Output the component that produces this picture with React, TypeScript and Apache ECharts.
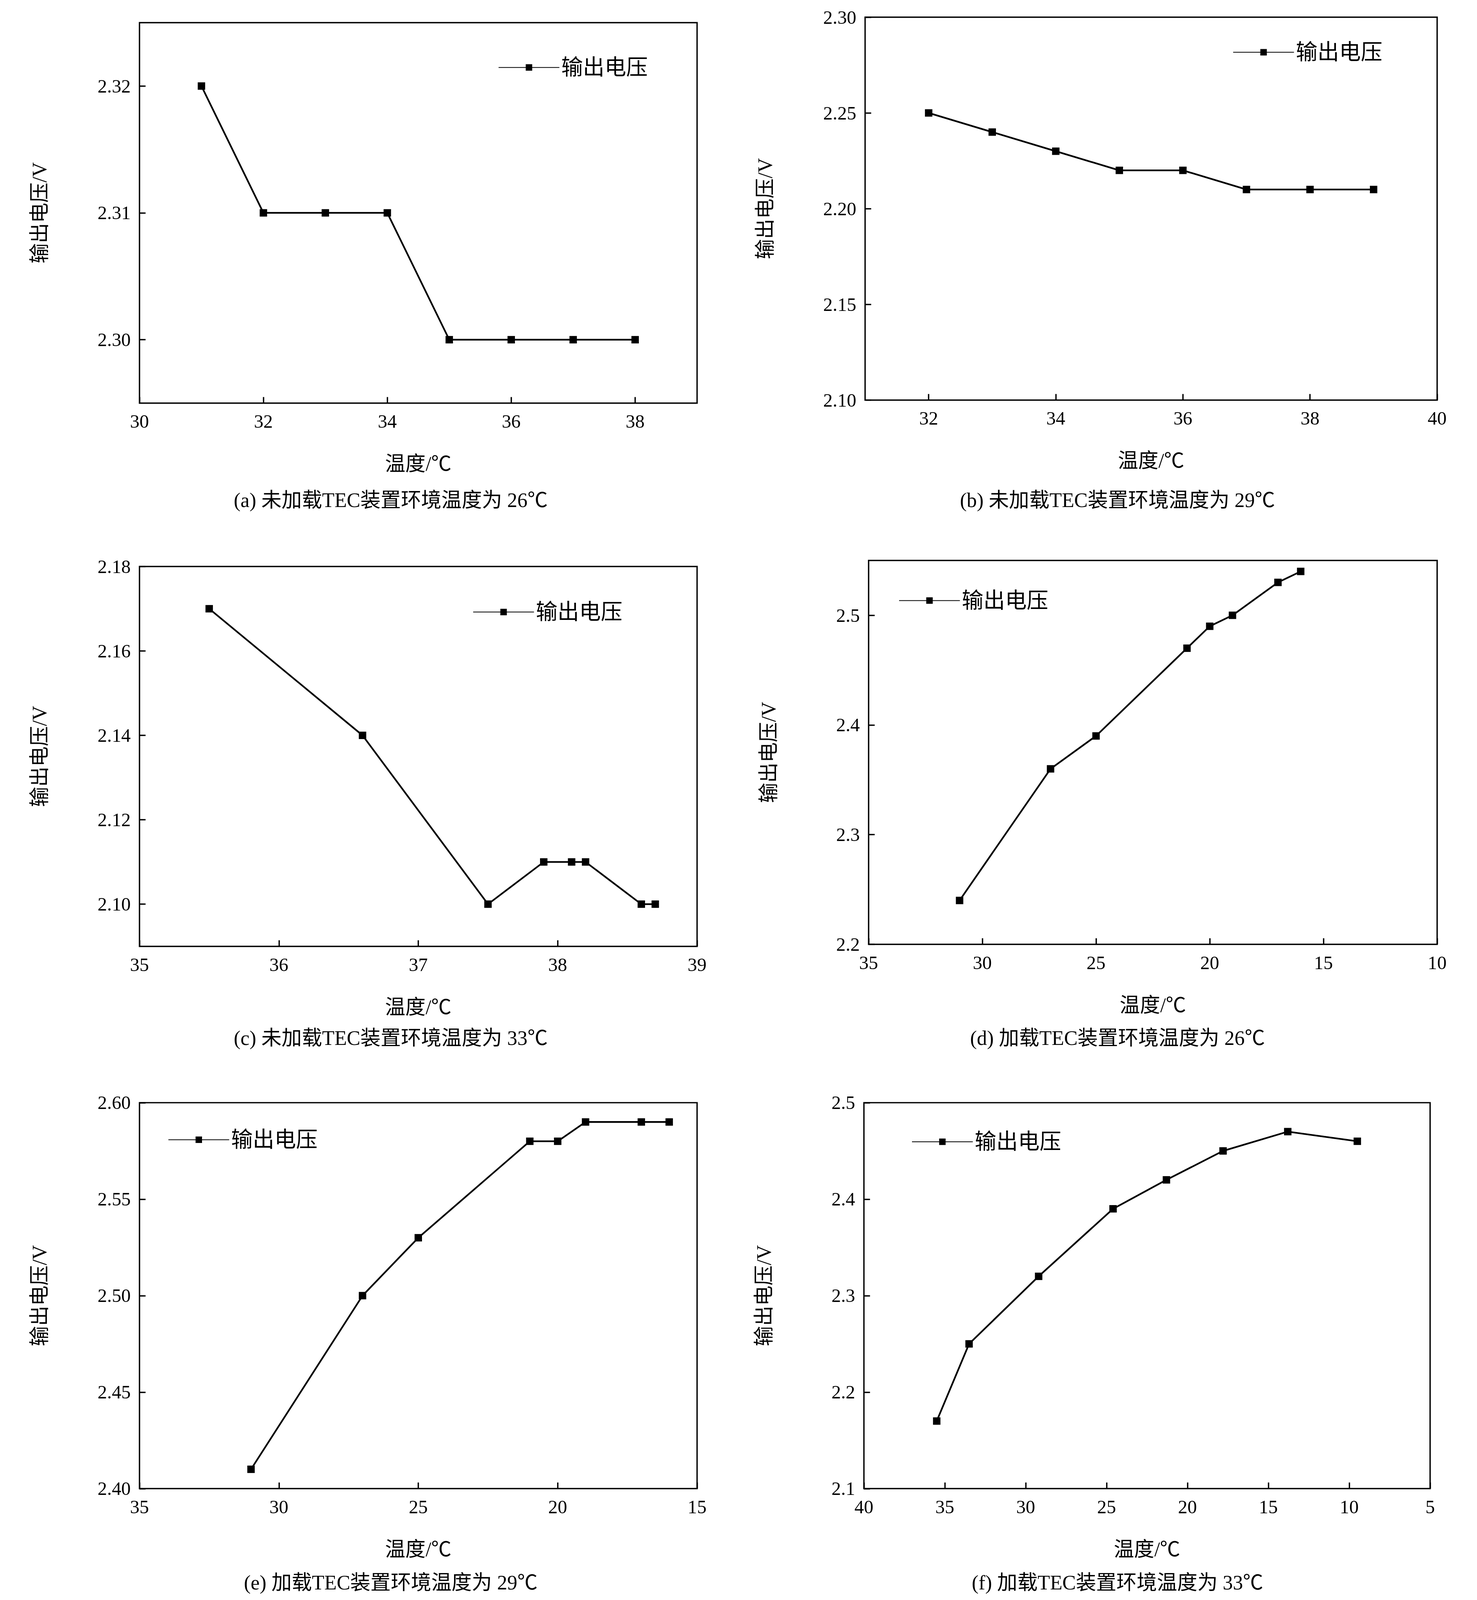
import React, { useEffect, useRef } from 'react'
import * as echarts from 'echarts'

const seriesName = '输出电压'

const xA = [31, 32, 33, 34, 35, 36, 37, 38]
const yA = [2.32, 2.31, 2.31, 2.31, 2.3, 2.3, 2.3, 2.3]
const xB = [32, 33, 34, 35, 36, 37, 38, 39]
const yB = [2.25, 2.24, 2.23, 2.22, 2.22, 2.21, 2.21, 2.21]
const xC = [35.5, 36.6, 37.5, 37.9, 38.1, 38.2, 38.6, 38.7]
const yC = [2.17, 2.14, 2.1, 2.11, 2.11, 2.11, 2.1, 2.1]
const xD = [31, 27, 25, 21, 20, 19, 17, 16]
const yD = [2.24, 2.36, 2.39, 2.47, 2.49, 2.5, 2.53, 2.54]
const xE = [31, 27, 25, 21, 20, 19, 17, 16]
const yE = [2.41, 2.5, 2.53, 2.58, 2.58, 2.59, 2.59, 2.59]
const xF = [35.5, 33.5, 29.2, 24.6, 21.3, 17.8, 13.8, 9.5]
const yF = [2.17, 2.25, 2.32, 2.39, 2.42, 2.45, 2.47, 2.46]

const xTicksA = [30, 32, 34, 36, 38]
const yTicksA = [2.3, 2.31, 2.32]
const xTicksB = [32, 34, 36, 38, 40]
const yTicksB = [2.1, 2.15, 2.2, 2.25, 2.3]
const xTicksC = [35, 36, 37, 38, 39]
const yTicksC = [2.1, 2.12, 2.14, 2.16, 2.18]
const xTicksD = [35, 30, 25, 20, 15, 10]
const yTicksD = [2.2, 2.3, 2.4, 2.5]
const xTicksE = [35, 30, 25, 20, 15]
const yTicksE = [2.4, 2.45, 2.5, 2.55, 2.6]
const xTicksF = [40, 35, 30, 25, 20, 15, 10, 5]
const yTicksF = [2.1, 2.2, 2.3, 2.4, 2.5]

const captions = [
  '(a) 未加载TEC装置环境温度为 26℃',
  '(b) 未加载TEC装置环境温度为 29℃',
  '(c) 未加载TEC装置环境温度为 33℃',
  '(d) 加载TEC装置环境温度为 26℃',
  '(e) 加载TEC装置环境温度为 29℃',
  '(f) 加载TEC装置环境温度为 33℃',
]

const FONT = '"Liberation Serif", "Noto Sans CJK SC", serif'

// layout in reference pixels (3780 x 4739), scaled to the real viewport
const panels = [
  { x: xA, y: yA, xt: xTicksA, yt: yTicksA, xMin: 30, xMax: 39, yMin: 2.295, yMax: 2.325, inv: false, dec: 2, grid: [357, 67, 1427, 1127], leg: [1270, 162] },
  { x: xB, y: yB, xt: xTicksB, yt: yTicksB, xMin: 31, xMax: 40, yMin: 2.1, yMax: 2.3, inv: false, dec: 2, grid: [2214, 51, 1464, 1134], leg: [3150, 117] },
  { x: xC, y: yC, xt: xTicksC, yt: yTicksC, xMin: 35, xMax: 39, yMin: 2.09, yMax: 2.18, inv: false, dec: 2, grid: [357, 1678, 1427, 1125], leg: [1205, 1775] },
  { x: xD, y: yD, xt: xTicksD, yt: yTicksD, xMin: 10, xMax: 35, yMin: 2.2, yMax: 2.55, inv: true, dec: 1, grid: [2223, 1660, 1455, 1137], leg: [2295, 1741] },
  { x: xE, y: yE, xt: xTicksE, yt: yTicksE, xMin: 15, xMax: 35, yMin: 2.4, yMax: 2.6, inv: true, dec: 2, grid: [357, 3266, 1427, 1143], leg: [425, 3338] },
  { x: xF, y: yF, xt: xTicksF, yt: yTicksF, xMin: 5, xMax: 40, yMin: 2.1, yMax: 2.5, inv: true, dec: 1, grid: [2211, 3266, 1449, 1143], leg: [2328, 3344] },
]

const App: React.FC = () => {
  const ref = useRef<HTMLDivElement>(null)

  useEffect(() => {
    if (!ref.current) return
    const chart = echarts.init(ref.current, undefined, { renderer: 'svg' })
    const W = ref.current.clientWidth || 3780
    const H = ref.current.clientHeight || 4739
    const sx = W / 3780
    const sy = H / 4739
    const s = Math.min(sx, sy)
    const text = { fontFamily: FONT, color: '#000' }

    const option: echarts.EChartsOption = {
      animation: false,
      backgroundColor: '#fff',
      grid: panels.map(p => ({
        left: p.grid[0] * sx, top: p.grid[1] * sy, width: p.grid[2] * sx, height: p.grid[3] * sy,
        show: true, borderColor: '#000', borderWidth: 4 * s, backgroundColor: 'transparent',
      })),
      legend: panels.map(p => ({
        data: [seriesName], left: p.leg[0] * sx, top: p.leg[1] * sy,
        itemWidth: 180 * s, itemHeight: 24 * s, itemGap: 10 * s,
        textStyle: { ...text, fontSize: 64 * s },
      })),
      xAxis: panels.map((p, i) => ({
        type: 'value', gridIndex: i, min: p.xMin, max: p.xMax, inverse: p.inv,
        name: '温度/℃', nameLocation: 'middle', nameGap: 150 * sy,
        nameTextStyle: { ...text, fontSize: 60 * s },
        splitLine: { show: false },
        axisLine: { show: false },
        axisTick: { inside: true, length: 18 * s, lineStyle: { color: '#000', width: 4 * s }, customValues: p.xt },
        axisLabel: { ...text, fontSize: 56 * s, margin: 26 * s, customValues: p.xt, formatter: (v: number) => String(v) },
      })),
      yAxis: panels.map((p, i) => ({
        type: 'value', gridIndex: i, min: p.yMin, max: p.yMax,
        name: '输出电压/V', nameLocation: 'middle', nameGap: 230 * sx,
        nameTextStyle: { ...text, fontSize: 60 * s },
        splitLine: { show: false },
        axisLine: { show: false },
        axisTick: { inside: true, length: 18 * s, lineStyle: { color: '#000', width: 4 * s }, customValues: p.yt },
        axisLabel: { ...text, fontSize: 56 * s, margin: 26 * s, customValues: p.yt, formatter: (v: number) => v.toFixed(p.dec) },
      })),
      series: panels.map((p, i) => ({
        type: 'line', name: seriesName, xAxisIndex: i, yAxisIndex: i,
        data: p.x.map((v, j) => [v, p.y[j]]),
        symbol: 'rect', symbolSize: 22 * s,
        lineStyle: { color: '#000', width: 5 * s },
        itemStyle: { color: '#000' },
      })),
      graphic: captions.map((c, i) => ({
        type: 'text',
        x: (i % 2 === 0 ? 1000 : 2860) * sx,
        y: [1482, 3075, 4687][Math.floor(i / 2)] * sy,
        style: { text: c, font: `${60 * s}px ${FONT}`, fill: '#000', align: 'center', verticalAlign: 'middle' },
      })),
    }
    chart.setOption(option)
    return () => chart.dispose()
  }, [])

  return <div ref={ref} style={{ position: 'fixed', left: 0, top: 0, width: '100vw', height: '100vh' }} />
}

export default App
